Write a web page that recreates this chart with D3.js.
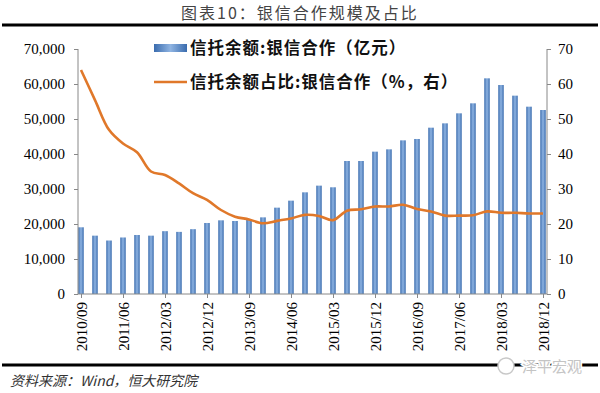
<!DOCTYPE html>
<html>
<head>
<meta charset="utf-8">
<script src="https://cdn.jsdelivr.net/npm/d3@7"></script>
<style>
	body { margin: 0; background: #fff; }
	svg { display: block; }
	.axis text { font-family: "Liberation Serif", "Times New Roman", serif; font-size: 15px; fill: #000; }
	.axis path, .axis line { stroke: #888; }
	.cjk { font-family: "Noto Sans CJK SC", sans-serif; }
</style>
</head>
<body>
<div id="chart"></div>
<script>

// quarters, 2010/09 .. 2018/12
let quarters = ["2010/09", "2010/12", "2011/03", "2011/06", "2011/09", "2011/12", "2012/03", "2012/06",
	"2012/09", "2012/12", "2013/03", "2013/06", "2013/09", "2013/12", "2014/03", "2014/06", "2014/09",
	"2014/12", "2015/03", "2015/06", "2015/09", "2015/12", "2016/03", "2016/06", "2016/09", "2016/12",
	"2017/03", "2017/06", "2017/09", "2017/12", "2018/03", "2018/06", "2018/09", "2018/12"];

// 信托余额:银信合作 (亿元)
let balance = [19060, 16670, 15280, 16150, 16860, 16670, 17950, 17750, 18520, 20290, 21050, 20860,
	21330, 21900, 24670, 26670, 29050, 30960, 30490, 38000, 38000, 40670, 41330, 43900, 44290,
	47520, 48760, 51620, 54480, 61620, 59710, 56670, 53520, 52570];

// 信托余额占比:银信合作 (%)
let share = [64.0, 55.4, 46.9, 43.0, 40.5, 35.0, 34.0, 31.6, 28.8, 26.9, 24.0, 22.1, 21.3, 20.2,
	20.9, 21.6, 22.6, 22.3, 21.1, 23.8, 24.2, 25.0, 25.0, 25.5, 24.3, 23.6, 22.4, 22.4, 22.5,
	23.6, 23.2, 23.2, 23.0, 23.0];

let tickQuarters = ["2010/09", "2011/06", "2012/03", "2012/12", "2013/09", "2014/06", "2015/03",
	"2015/12", "2016/09", "2017/06", "2018/03", "2018/12"];
let leftTicks = [0, 10000, 20000, 30000, 40000, 50000, 60000, 70000];
let rightTicks = [0, 10, 20, 30, 40, 50, 60, 70];

let legendLabels = ["信托余额:银信合作（亿元）", "信托余额占比:银信合作（%，右）"];

let width = 600, height = 393;
let plot = {left: 78, right: 547, top: 49, bottom: 294};

let svg = d3.select("#chart").append("svg")
	.attr("width", width)
	.attr("height", height);

// gradient for the bars
let grad = svg.append("defs").append("linearGradient")
	.attr("id", "barGrad")
	.attr("x1", "0%").attr("x2", "100%")
	.attr("y1", "0%").attr("y2", "0%");
grad.append("stop").attr("offset", "0%").attr("stop-color", "#3a6cae");
grad.append("stop").attr("offset", "50%").attr("stop-color", "#8fb4e2");
grad.append("stop").attr("offset", "100%").attr("stop-color", "#3a6cae");

svg.select("defs").append("clipPath").attr("id", "plotClip")
	.append("rect")
	.attr("x", plot.left).attr("y", 0)
	.attr("width", plot.right - plot.left).attr("height", plot.bottom);

// title
svg.append("text")
	.attr("class", "cjk")
	.attr("x", width / 2)
	.attr("y", 19)
	.attr("text-anchor", "middle")
	.style("font-size", "16px")
	.style("letter-spacing", "2px")
	.style("fill", "#444")
	.text("图表10：银信合作规模及占比");

svg.append("rect")
	.attr("x", 2).attr("y", 23.5)
	.attr("width", 596).attr("height", 3)
	.style("fill", "#000");

// scales
let x = d3.scalePoint()
	.domain(quarters)
	.range([81, 543]);

let yLeft = d3.scaleLinear()
	.domain([0, 70000])
	.range([plot.bottom, plot.top]);

let yRight = d3.scaleLinear()
	.domain([0, 70])
	.range([plot.bottom, plot.top]);

// bars
let barW = 5.5;
svg.append("g")
	.attr("clip-path", "url(#plotClip)")
	.selectAll("rect.bar")
	.data(balance)
	.enter()
	.append("rect")
	.attr("class", "bar")
	.attr("x", (d, i) => x(quarters[i]) - barW / 2)
	.attr("y", d => yLeft(d))
	.attr("width", barW)
	.attr("height", d => plot.bottom - yLeft(d))
	.style("fill", "url(#barGrad)");

// axes
let leftAxis = svg.append("g")
	.attr("class", "axis")
	.attr("transform", `translate(${plot.left},0)`)
	.call(d3.axisLeft(yLeft).tickValues(leftTicks).tickSize(4).tickPadding(9)
		.tickFormat(d3.format(",")));
leftAxis.select(".domain").attr("d", `M0,${plot.top}V${plot.bottom}`);

let rightAxis = svg.append("g")
	.attr("class", "axis")
	.attr("transform", `translate(${plot.right},0)`)
	.call(d3.axisRight(yRight).tickValues(rightTicks).tickSize(4).tickPadding(7));
rightAxis.select(".domain").attr("d", `M0,${plot.top}V${plot.bottom}`);

let bottomAxis = svg.append("g")
	.attr("class", "axis")
	.attr("transform", `translate(0,${plot.bottom})`)
	.call(d3.axisBottom(x).tickValues(tickQuarters).tickSize(4).tickPadding(6));
bottomAxis.select(".domain").attr("d", `M${plot.left},0H${plot.right}`);
bottomAxis.selectAll("text")
	.attr("transform", "rotate(-90)")
	.attr("text-anchor", "end")
	.attr("dy", "0.35em")
	.attr("x", -8)
	.attr("y", 0)
	.style("font-size", "15px");

// share line
let line = d3.line()
	.x((d, i) => x(quarters[i]))
	.y(d => yRight(d))
	.curve(d3.curveCatmullRom);

svg.append("path")
	.datum(share)
	.attr("d", line)
	.style("fill", "none")
	.style("stroke", "#e0782a")
	.style("stroke-width", 2.6)
	.style("stroke-linejoin", "round");

// legend
let legend = svg.append("g").attr("class", "legend");

legend.append("rect")
	.attr("x", 154).attr("y", 44)
	.attr("width", 33).attr("height", 8)
	.style("fill", "url(#barGrad)");

legend.append("line")
	.attr("x1", 154).attr("x2", 187)
	.attr("y1", 82).attr("y2", 82)
	.style("stroke", "#e0782a")
	.style("stroke-width", 2.6);

legend.selectAll("text")
	.data(legendLabels)
	.enter()
	.append("text")
	.attr("class", "cjk")
	.attr("x", 190)
	.attr("y", (d, i) => 48 + i * 34)
	.attr("dy", "0.35em")
	.style("font-size", "16.5px")
	.style("font-weight", "bold")
	.style("letter-spacing", "1px")
	.style("fill", "#111")
	.text(d => d);

// footer
svg.append("rect")
	.attr("x", 2).attr("y", 363.5)
	.attr("width", 596).attr("height", 3)
	.style("fill", "#000");

svg.append("text")
	.attr("class", "cjk")
	.attr("x", 10)
	.attr("y", 386)
	.style("font-size", "14px")
	.style("font-style", "italic")
	.style("fill", "#333")
	.text("资料来源：Wind，恒大研究院");

// watermark
let wm = svg.append("g");
wm.append("circle")
	.attr("cx", 506).attr("cy", 366).attr("r", 8)
	.style("fill", "#fff").style("stroke", "#c8c8c8").style("stroke-width", 1.5);
wm.append("text")
	.attr("class", "cjk")
	.attr("x", 522)
	.attr("y", 372)
	.style("font-size", "15px")
	.style("fill", "#c4c4c4")
	.style("stroke", "#fff")
	.style("stroke-width", 3)
	.style("paint-order", "stroke")
	.text("泽平宏观");

</script>
</body>
</html>
